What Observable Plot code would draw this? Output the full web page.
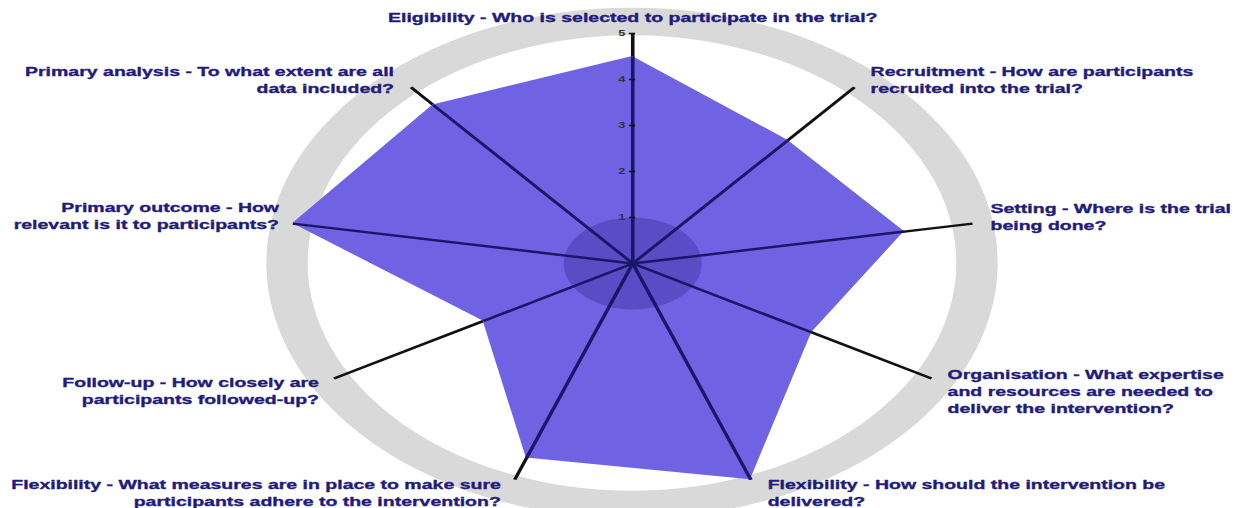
<!DOCTYPE html>
<html><head><meta charset="utf-8">
<script src="https://cdn.jsdelivr.net/npm/d3@7"></script>
<script src="https://cdn.jsdelivr.net/npm/@observablehq/plot@0.6"></script>
<style>body{margin:0;background:#fff} #chart svg{display:block}</style>
</head><body><div id="chart"></div>
<script>
// ---- data ----
const domains = ["Eligibility","Recruitment","Setting","Organisation","Flexibility (delivery)","Flexibility (adherence)","Follow-up","Primary outcome","Primary analysis"];
const labels = [
  "Eligibility - Who is selected to participate in the trial?",
  "Recruitment - How are participants\nrecruited into the trial?",
  "Setting - Where is the trial\nbeing done?",
  "Organisation - What expertise\nand resources are needed to\ndeliver the intervention?",
  "Flexibility - How should the intervention be\ndelivered?",
  "Flexibility - What measures are in place to make sure\nparticipants adhere to the intervention?",
  "Follow-up - How closely are\nparticipants followed-up?",
  "Primary outcome - How\nrelevant is it to participants?",
  "Primary analysis - To what extent are all\ndata included?"
];
const scores = [4.5, 3.5, 4, 3, 5, 4.5, 2.5, 5, 4.5];
const axisTicks = [1, 2, 3, 4, 5];
const axisMax = 5;

// ---- layout (styles) ----
const labelAnchor = ["middle","start","start","start","start","end","end","end","end"];
const labelDx = [0, 10.7, 12, 10.7, 11.3, -9.3, -10, -9.3, -11.3];
const labelDy = [-17, -8.5, -7.5, 12, 12.5, 12.5, 11.5, -8.5, -8.5];
const SX = 1.5;             // horizontal stretch of the picture
const W = 1244 / SX, H = 508;
const cx = 632 / SX, cy = 263, unit = 46;
const ringInner = {rx: 4.70, ry: 4.95}, ringOuter = {rx: 5.3, ry: 5.55};

const rows = domains.map((d, i) => {
  const a = i * 2 * Math.PI / domains.length;
  return {domain: d, label: labels[i], score: scores[i], s: Math.sin(a), c: Math.cos(a), i};
});
const poly = [...rows, rows[0]];
const ring = d3.range(0, 361, 3).map(t => ({s: Math.sin(t * Math.PI / 180), c: Math.cos(t * Math.PI / 180)}));

const font = "Liberation Sans, Arial, Helvetica, sans-serif";
const textColor = "#1f1c7c";
const marks = [
  Plot.area(ring, {x1: d => ringOuter.rx * d.s, y1: d => ringOuter.ry * d.c, x2: d => ringInner.rx * d.s, y2: d => ringInner.ry * d.c, fill: "#d9d9d9"}),
  Plot.link(rows, {x1: 0, y1: 0, x2: d => axisMax * d.s, y2: d => axisMax * d.c, stroke: "#111", strokeWidth: 2.4}),
  Plot.area(poly, {x1: d => d.score * d.s, y1: d => d.score * d.c, x2: 0, y2: 0, fill: "#6f63e4"}),
  Plot.dot([0], {x: 0, y: 0, r: unit, fill: "#2a1f8a", fillOpacity: 0.32}),
  Plot.link(rows, {x1: 0, y1: 0, x2: d => d.score * d.s, y2: d => d.score * d.c, stroke: "#1a1668", strokeWidth: 2.4}),
  Plot.ruleY(axisTicks, {y: d => d, x1: -0.045, x2: 0.045, stroke: "#111", strokeWidth: 1.6}),
  Plot.text(axisTicks, {x: 0, y: d => d, text: d => String(d), textAnchor: "end", dx: -5, fontSize: 8.5, fontWeight: "bold", fill: "#333", fontFamily: font}),
  ...rows.map(r => Plot.text([r], {
    x: d => axisMax * d.s, y: d => axisMax * d.c, text: "label",
    textAnchor: labelAnchor[r.i], dx: labelDx[r.i], dy: labelDy[r.i],
    lineAnchor: "middle", lineHeight: 1.3, fontSize: 13, fontWeight: "bold",
    fontFamily: font, fill: textColor, stroke: textColor, strokeWidth: 0.35
  }))
];

const chart = Plot.plot({
  width: W, height: H,
  margin: 0,
  x: {domain: [-cx / unit, (W - cx) / unit], range: [0, W], axis: null},
  y: {domain: [(cy - H) / unit, cy / unit], range: [H, 0], axis: null},
  style: {background: "#fff", overflow: "visible"},
  marks
});
chart.setAttribute("width", 1244);
chart.setAttribute("height", H);
chart.setAttribute("viewBox", `0 0 ${W} ${H}`);
chart.setAttribute("preserveAspectRatio", "none");
chart.style.width = "1244px";
chart.style.height = H + "px";
chart.style.maxWidth = "none";
document.getElementById("chart").appendChild(chart);
</script>
</body></html>
